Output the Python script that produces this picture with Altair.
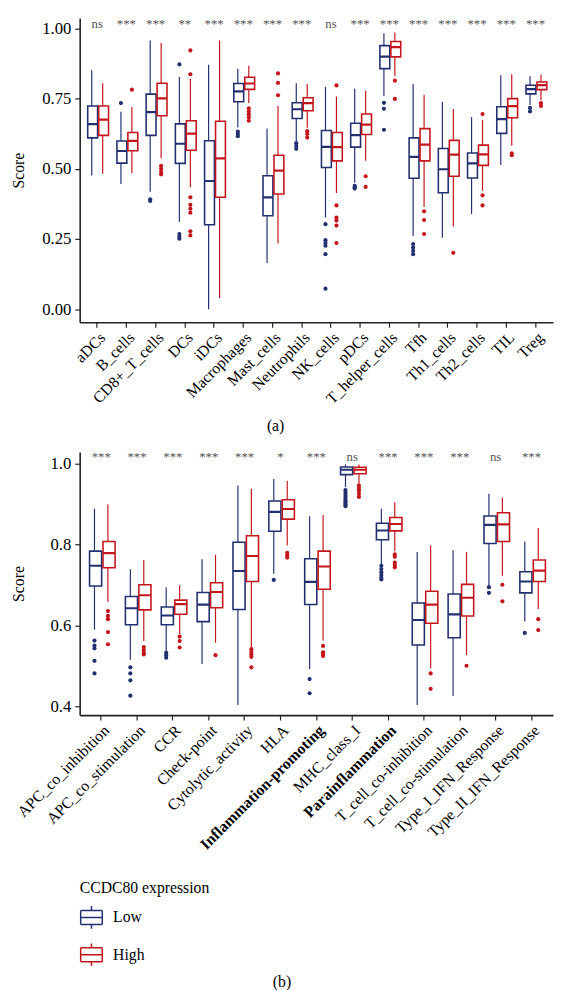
import altair as alt
import pandas as pd

FONT = "Liberation Serif"
LOW = "#22306f"
HIGH = "#c3161c"
GROUPS = ["Low", "High"]

# ---------------- panel (a): immune cells ----------------
cells = ["aDCs", "B_cells", "CD8+_T_cells", "DCs", "iDCs", "Macrophages", "Mast_cells",
         "Neutrophils", "NK_cells", "pDCs", "T_helper_cells", "Tfh", "Th1_cells",
         "Th2_cells", "TIL", "Treg"]
cells_sig = ["ns", "***", "***", "**", "***", "***", "***", "***", "ns", "***", "***",
             "***", "***", "***", "***", "***"]
# [lower whisker, q1, median, q3, upper whisker]
cells_low = [
    [0.477, 0.611, 0.660, 0.725, 0.852],
    [0.446, 0.521, 0.564, 0.600, 0.704],
    [0.419, 0.620, 0.703, 0.767, 0.958],
    [0.312, 0.520, 0.590, 0.661, 0.828],
    [0.000, 0.301, 0.457, 0.601, 0.872],
    [0.648, 0.740, 0.777, 0.805, 0.858],
    [0.165, 0.333, 0.399, 0.476, 0.644],
    [0.600, 0.680, 0.713, 0.736, 0.806],
    [0.327, 0.505, 0.579, 0.637, 0.793],
    [0.451, 0.578, 0.621, 0.663, 0.786],
    [0.760, 0.858, 0.901, 0.940, 0.984],
    [0.261, 0.467, 0.543, 0.611, 0.803],
    [0.255, 0.415, 0.499, 0.573, 0.740],
    [0.339, 0.468, 0.520, 0.557, 0.685],
    [0.514, 0.627, 0.678, 0.722, 0.834],
    [0.728, 0.768, 0.785, 0.799, 0.831],
]
cells_high = [
    [0.483, 0.620, 0.676, 0.725, 0.806],
    [0.485, 0.565, 0.600, 0.630, 0.721],
    [0.538, 0.690, 0.752, 0.806, 0.949],
    [0.435, 0.567, 0.626, 0.672, 0.822],
    [0.039, 0.399, 0.538, 0.670, 0.958],
    [0.735, 0.784, 0.805, 0.827, 0.868],
    [0.234, 0.411, 0.494, 0.549, 0.725],
    [0.647, 0.708, 0.735, 0.754, 0.803],
    [0.414, 0.529, 0.578, 0.630, 0.759],
    [0.529, 0.623, 0.658, 0.696, 0.779],
    [0.831, 0.900, 0.935, 0.955, 0.987],
    [0.364, 0.529, 0.587, 0.644, 0.765],
    [0.295, 0.474, 0.551, 0.602, 0.714],
    [0.422, 0.513, 0.552, 0.585, 0.675],
    [0.583, 0.683, 0.724, 0.751, 0.838],
    [0.745, 0.783, 0.799, 0.810, 0.837],
]
cells_low_out = [
    [], [0.735], [0.392, 0.386], [0.873, 0.268, 0.258, 0.251], [],
    [0.633, 0.625, 0.617], [], [0.592, 0.582, 0.572],
    [0.303, 0.246, 0.236, 0.226, 0.196, 0.073], [0.440, 0.435, 0.430],
    [0.736, 0.715, 0.640], [0.232, 0.220, 0.208, 0.196], [], [], [], [0.718, 0.705],
]
cells_high_out = [
    [], [0.783], [0.511, 0.500, 0.490, 0.481],
    [0.923, 0.838, 0.399, 0.372, 0.358, 0.344, 0.278, 0.263], [],
    [0.716, 0.705, 0.695, 0.685, 0.672], [0.841, 0.807, 0.763], [0.635, 0.625, 0.612],
    [0.798, 0.370, 0.327, 0.316, 0.298, 0.236], [0.474, 0.436], [0.815, 0.750],
    [0.349, 0.318, 0.268], [0.201], [0.696, 0.406, 0.370], [0.556, 0.549], [0.735, 0.725],
]

# ---------------- panel (b): immune functions ----------------
funcs = ["APC_co_inhibition", "APC_co_stimulation", "CCR", "Check-point",
         "Cytolytic_activity", "HLA", "Inflammation-promoting", "MHC_class_I",
         "Parainflammation", "T_cell_co-inhibition", "T_cell_co-stimulation",
         "Type_I_IFN_Response", "Type_II_IFN_Response"]
funcs_sig = ["***", "***", "***", "***", "***", "*", "***", "ns", "***", "***", "***", "ns", "***"]
funcs_bold = ["Inflammation-promoting", "Parainflammation"]
funcs_low = [
    [0.590, 0.698, 0.748, 0.784, 0.889],
    [0.516, 0.602, 0.643, 0.672, 0.739],
    [0.537, 0.602, 0.625, 0.646, 0.694],
    [0.505, 0.610, 0.652, 0.682, 0.764],
    [0.404, 0.640, 0.735, 0.806, 0.946],
    [0.728, 0.833, 0.881, 0.908, 0.962],
    [0.493, 0.652, 0.708, 0.765, 0.870],
    [0.942, 0.973, 0.985, 0.992, 0.998],
    [0.752, 0.812, 0.835, 0.853, 0.889],
    [0.404, 0.552, 0.614, 0.656, 0.782],
    [0.426, 0.570, 0.628, 0.678, 0.786],
    [0.699, 0.803, 0.849, 0.871, 0.926],
    [0.610, 0.681, 0.709, 0.733, 0.808],
]
funcs_high = [
    [0.659, 0.743, 0.779, 0.808, 0.899],
    [0.562, 0.639, 0.675, 0.701, 0.762],
    [0.578, 0.628, 0.653, 0.663, 0.700],
    [0.558, 0.644, 0.683, 0.706, 0.775],
    [0.546, 0.709, 0.772, 0.822, 0.938],
    [0.798, 0.863, 0.888, 0.911, 0.958],
    [0.563, 0.690, 0.746, 0.784, 0.873],
    [0.950, 0.975, 0.985, 0.991, 0.998],
    [0.784, 0.834, 0.851, 0.867, 0.905],
    [0.495, 0.606, 0.652, 0.685, 0.798],
    [0.527, 0.624, 0.669, 0.702, 0.782],
    [0.723, 0.808, 0.850, 0.879, 0.916],
    [0.641, 0.709, 0.736, 0.762, 0.841],
]
funcs_low_out = [
    [0.563, 0.551, 0.544, 0.513, 0.482], [0.497, 0.482, 0.465, 0.427],
    [0.533, 0.527, 0.521], [], [], [0.713], [0.468, 0.433],
    [0.935, 0.930, 0.925, 0.920, 0.915, 0.910, 0.905, 0.900, 0.895],
    [0.748, 0.740, 0.732, 0.725, 0.718, 0.714], [], [], [0.695, 0.681], [0.582],
]
funcs_high_out = [
    [0.636, 0.624, 0.616, 0.584, 0.554], [0.547, 0.540, 0.533, 0.529],
    [0.573, 0.562, 0.546], [0.527], [0.542, 0.535, 0.529, 0.523, 0.497],
    [0.780, 0.774, 0.768], [0.550, 0.534, 0.529, 0.525],
    [0.946, 0.940, 0.934, 0.926, 0.918], [0.776, 0.770, 0.756, 0.750, 0.744],
    [0.482, 0.444], [0.501], [0.701, 0.660], [0.616, 0.589],
]


def frames(cats, low, high, lo_out, hi_out):
    rows, outs = [], []
    for grp, stats, outl in (("Low", low, lo_out), ("High", high, hi_out)):
        for c, s, o in zip(cats, stats, outl):
            rows.append(dict(cat=c, grp=grp, lower=s[0], q1=s[1], med=s[2], q3=s[3], upper=s[4]))
            for v in o:
                outs.append(dict(cat=c, grp=grp, pgrp=grp, val=v))
    return pd.DataFrame(rows), pd.DataFrame(outs)


# legend glyph built only from straight-line sub-paths, so it has no fillable area
BOX_PATH = ("M-1,-0.65H1 M1,-0.65V0.65 M1,0.65H-1 M-1,0.65V-0.65 "
            "M-1,0H1 M0,-0.65V-1.05 M0,0.65V1.05")


def panel(cats, sig, low, high, lo_out, hi_out, ydomain, yvalues, yfmt, sig_y,
          height, xaxis, legend):
    box_df, out_df = frames(cats, low, high, lo_out, hi_out)
    sig_df = pd.DataFrame({"cat": cats, "sig": sig, "y": [sig_y] * len(cats)})

    xenc = alt.X("cat:N", sort=cats, scale=alt.Scale(paddingInner=0, paddingOuter=0.1), axis=xaxis)
    xoff = alt.XOffset("grp:N", sort=GROUPS,
                       scale=alt.Scale(domain=GROUPS, paddingInner=0, paddingOuter=0.333))
    yscale = alt.Scale(domain=ydomain, nice=False, zero=False)
    yaxis = alt.Axis(values=yvalues, format=yfmt, labelFont=FONT, titleFont=FONT,
                     labelFontSize=17, titleFontSize=16, titleFontWeight="normal",
                     labelPadding=4, tickSize=5, minExtent=40, titlePadding=14)
    cscale = alt.Scale(domain=GROUPS, range=[LOW, HIGH])
    if legend is None:
        stroke = alt.Stroke("grp:N", scale=cscale, legend=None)
    else:
        stroke = alt.Stroke("grp:N", scale=cscale, legend=legend, sort=GROUPS)
    fill = alt.Fill("pgrp:N", scale=cscale, legend=None)

    def yy(field):
        return alt.Y(field, scale=yscale, axis=yaxis, title="Score")

    base = alt.Chart(box_df)
    whisk = base.mark_rule(strokeWidth=1.2).encode(
        x=xenc, xOffset=xoff, y=yy("lower:Q"), y2="upper:Q", stroke=stroke)
    box = base.mark_bar(fill="white", strokeWidth=1.6, width={"band": 0.9}).encode(
        x=xenc, xOffset=xoff, y=yy("q1:Q"), y2="q3:Q", stroke=stroke)
    med = base.mark_bar(fill="white", strokeWidth=2.2, width={"band": 0.9}).encode(
        x=xenc, xOffset=xoff, y=yy("med:Q"), y2="med:Q", stroke=stroke)
    pts = alt.Chart(out_df).mark_circle(size=18, opacity=1).encode(
        x=xenc, xOffset=xoff, y=yy("val:Q"), fill=fill)
    txt = alt.Chart(sig_df).mark_text(font=FONT, fontSize=13, color="#555555",
                                      strokeWidth=0).encode(
        x=xenc, y=yy("y:Q"), text="sig:N")
    return alt.layer(whisk, box, med, pts, txt).properties(width=482, height=height)


xaxis_a = alt.Axis(labelAngle=315, labelFont=FONT, labelFontSize=16, tickSize=5, labelPadding=2,
                   title="(a)", titleFont=FONT, titleFontSize=16, titleFontWeight="normal",
                   titleX=199, titleAlign="center", titlePadding=12)
bold_test = " || ".join("datum.value == '%s'" % b for b in funcs_bold)
xaxis_b = alt.Axis(labelAngle=315, labelFont=FONT, labelFontSize=16, tickSize=5, labelPadding=2,
                   title=None,
                   labelFontWeight={"condition": {"test": bold_test, "value": "bold"},
                                    "value": "normal"})

legend_b = alt.Legend(title="CCDC80 expression", orient="none", legendX=0, legendY=436,
                      direction="vertical", symbolType=BOX_PATH, symbolSize=484,
                      symbolStrokeWidth=1.5, symbolFillColor="white",
                      labelFont=FONT, labelFontSize=16, labelColor="black", labelOffset=10,
                      titleFont=FONT, titleFontSize=16, titleFontWeight="normal",
                      titleColor="black", titlePadding=10, rowPadding=8)

pa = panel(cells, cells_sig, cells_low, cells_high, cells_low_out, cells_high_out,
           [-0.047, 1.039], [0, 0.25, 0.5, 0.75, 1.0], ".2f", 1.018, 310, xaxis_a, None)
pb = panel(funcs, funcs_sig, funcs_low, funcs_high, funcs_low_out, funcs_high_out,
           [0.379, 1.029], [0.4, 0.6, 0.8, 1.0], ".1f", 1.016, 268, xaxis_b, legend_b)

chart = alt.vconcat(pa, pb, spacing=15).resolve_scale(
    x="independent", y="independent", xOffset="independent",
    stroke="independent", fill="independent"
).properties(
    title=alt.TitleParams("(b)", orient="bottom", anchor="middle", font=FONT, fontSize=16,
                          fontWeight="normal", color="black", offset=4),
    padding={"left": 2, "top": 0, "right": 0, "bottom": 0},
).configure(font=FONT).configure_axis(
    domainColor="#222222", tickColor="#222222", labelColor="black", titleColor="black",
    labelFont=FONT, titleFont=FONT, grid=False, domainWidth=1.6, tickWidth=1.2
).configure_view(stroke="transparent")

chart.save("out.html", embed_options={"renderer": "svg", "actions": False})
